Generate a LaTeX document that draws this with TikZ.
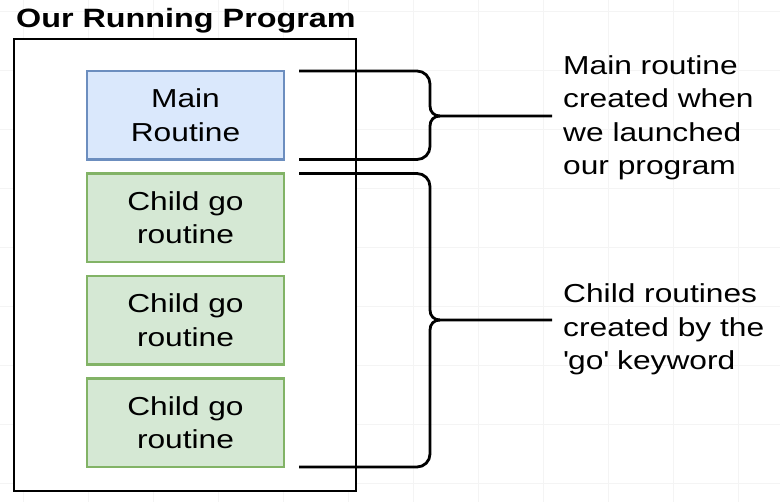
\documentclass[tikz,border=0pt]{standalone}
\usepackage{fontspec}
\setmainfont{Liberation Sans}[FakeStretch=1.22]
\usepackage{tikz}
\usetikzlibrary{ positioning }
\definecolor{mainfill}{HTML}{DAE8FC}
\definecolor{mainline}{HTML}{6C8EBF}
\definecolor{childfill}{HTML}{D5E8D4}
\definecolor{childline}{HTML}{82B366}
\tikzset{
gridline/.style={gray!9, line width=0.6pt}, % faint background grid
frame/.style={draw, line width=2.8pt, fill=white, minimum width=342pt, minimum height=452pt, outer sep=0pt},
routine/.style={draw, line width=2.2pt, minimum width=197pt, minimum height=88.5pt, inner sep=0pt, outer sep=0pt, align=center, font=\fontsize{26}{33.5}\selectfont},
mainroutine/.style={routine, fill=mainfill, draw=mainline},
childroutine/.style={routine, fill=childfill, draw=childline},
brace/.style={line width=2.8pt},
note/.style={align=left, anchor=north west, inner sep=0pt, font=\fontsize{26}{33.5}\selectfont},
}

\begin{document}
\begin{tikzpicture}[x=1pt, y=-1pt, node distance=14pt]
  \useasboundingbox (0,0) rectangle (780,502);
  \foreach \gx in {23,88,...,738} \draw[gridline] (\gx,0) -- (\gx,502);
  \foreach \gy in {11,70,...,483} \draw[gridline] (0,\gy) -- (780,\gy);

  \node[anchor=base west, inner sep=0pt, font=\fontsize{26.5}{30}\selectfont\bfseries] (heading) at (16,28) {Our Running Program};
  \node[frame] (program) at (185,265) {};

  \node[mainroutine] (main) at (185.5,115.25) {Main\\Routine};
  \node[childroutine, below=of main] (child1) {Child go\\routine};
  \node[childroutine, below=of child1] (child2) {Child go\\routine};
  \node[childroutine, below=of child2] (child3) {Child go\\routine};

  % bracket ends next to the boxes
  \coordinate (mainTop) at ([xshift=15pt]main.north east);
  \coordinate (mainBot) at ([xshift=15pt]main.south east);
  \coordinate (childTop) at ([xshift=15pt]child1.north east);
  \coordinate (childBot) at ([xshift=15pt]child3.south east);
  \coordinate (mainTip) at (440,116);
  \coordinate (childTip) at (440,320);

  \node[note] (mainNote) at (563,55) {Main routine\\created when\\we launched\\our program};
  \node[note] (childNote) at (563,283.5) {Child routines\\created by the\\\textquotesingle go\textquotesingle{} keyword};

  \draw[brace] (mainTop) [rounded corners=13pt] -- (mainTop -| 430,0) [sharp corners] -- (430,106)
    .. controls (430,112) and (434,116) .. (mainTip) -- (552,116);
  \draw[brace] (mainBot) [rounded corners=13pt] -- (mainBot -| 430,0) [sharp corners] -- (430,126)
    .. controls (430,120) and (434,116) .. (mainTip);
  \draw[brace] (childTop) [rounded corners=13pt] -- (childTop -| 430,0) [sharp corners] -- (430,310)
    .. controls (430,316) and (434,320) .. (childTip) -- (552,320);
  \draw[brace] (childBot) [rounded corners=13pt] -- (childBot -| 430,0) [sharp corners] -- (430,330)
    .. controls (430,324) and (434,320) .. (childTip);
\end{tikzpicture}
\end{document}
